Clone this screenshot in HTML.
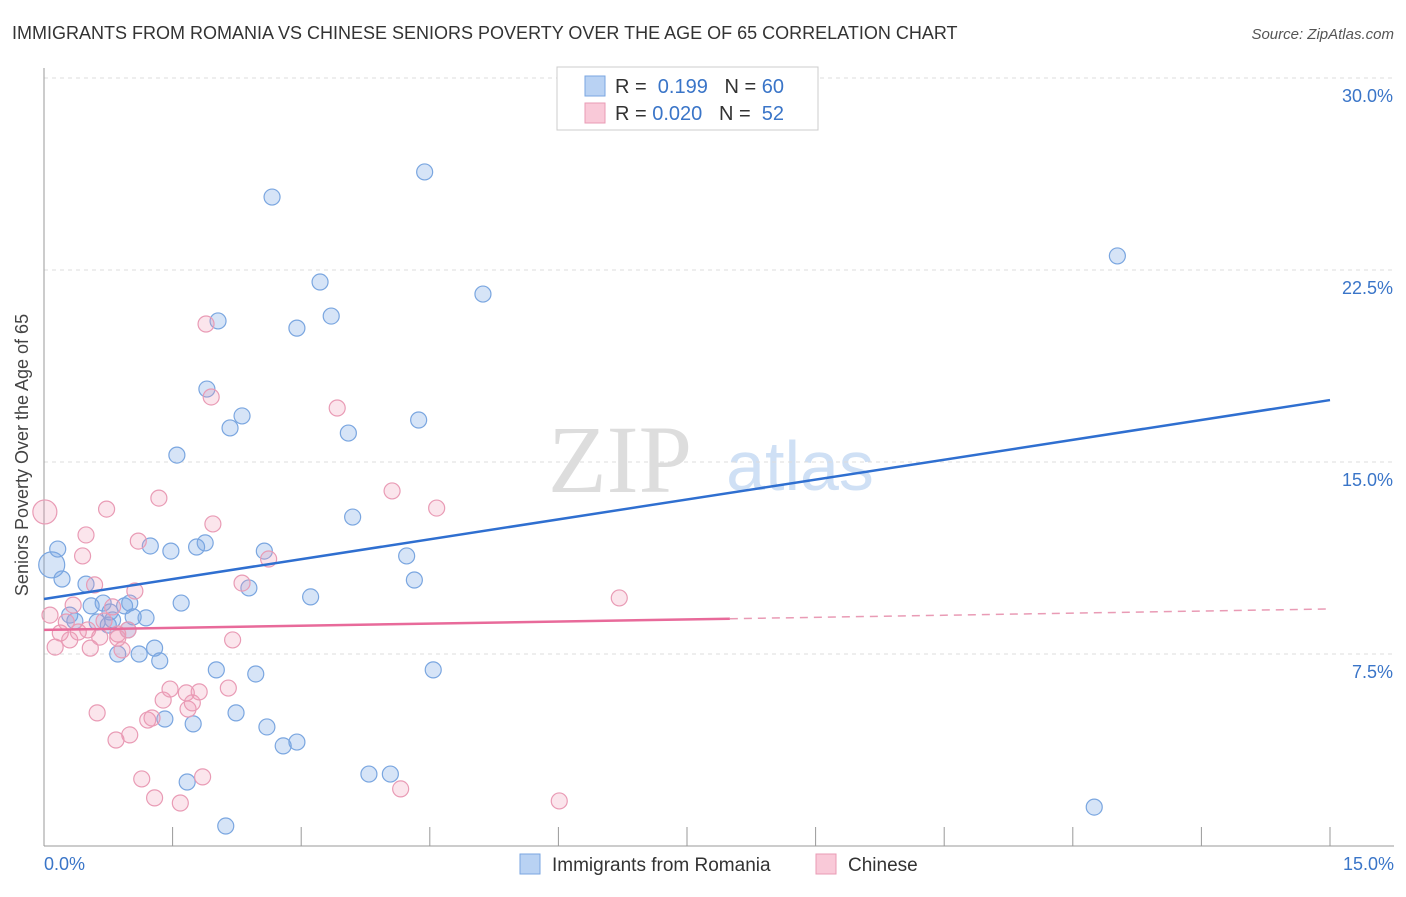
<!DOCTYPE html>
<html><head><meta charset="utf-8"><style>
body{margin:0;background:#fff;font-family:"Liberation Sans",sans-serif}
</style></head><body>
<svg id="c" width="1406" height="892" xmlns="http://www.w3.org/2000/svg" font-family="Liberation Sans, sans-serif">
<text x="12" y="39" font-size="18" fill="#333">IMMIGRANTS FROM ROMANIA VS CHINESE SENIORS POVERTY OVER THE AGE OF 65 CORRELATION CHART</text>
<text x="1394" y="39" font-size="15" fill="#555" font-style="italic" text-anchor="end">Source: ZipAtlas.com</text>
<text x="620" y="492" font-size="96" fill="#ddd" font-family="Liberation Serif, serif" text-anchor="middle">ZIP</text>
<text x="800" y="490" font-size="70" fill="#cfe0f5" text-anchor="middle">atlas</text>
<g id="grid"></g><g id="axes"></g><g id="pts"></g><g id="lines"></g>
<text x="28" y="455" font-size="18" fill="#444" text-anchor="middle" transform="rotate(-90 28 455)">Seniors Poverty Over the Age of 65</text>
<g>
<rect x="557" y="67" width="261" height="63" fill="#fff" stroke="#ccc"/>
<rect x="585" y="76" width="20" height="20" fill="#b9d2f3" stroke="#7aa6e0"/>
<rect x="585" y="103" width="20" height="20" fill="#f9c9d8" stroke="#e99bb5"/>
<text x="615" y="93" font-size="20" fill="#333">R = <tspan fill="#3a75c8">&#160;0.199</tspan>&#160;&#160;&#160;N = <tspan fill="#3a75c8">60</tspan></text>
<text x="615" y="120" font-size="20" fill="#333">R = <tspan fill="#3a75c8">0.020</tspan>&#160;&#160;&#160;N = <tspan fill="#3a75c8">&#160;52</tspan></text>
</g>
<g>
<rect x="520" y="854" width="20" height="20" fill="#b9d2f3" stroke="#7aa6e0"/>
<text x="552" y="871" font-size="19" fill="#333">Immigrants from Romania</text>
<rect x="816" y="854" width="20" height="20" fill="#f9c9d8" stroke="#e99bb5"/>
<text x="848" y="871" font-size="19" fill="#333">Chinese</text>
</g>
</svg>
<script>
const yTicks=[7.5,15,22.5,30];
const yTickLabels=["7.5%","15.0%","22.5%","30.0%"];
const xTicks=[0,1.5,3,4.5,6,7.5,9,10.5,12,13.5,15];
const blueX=[0.09,0.16,0.21,0.49,0.30,0.55,0.62,0.77,0.69,0.94,1.00,0.98,1.04,1.19,0.75,0.86,1.11,1.29,1.35,1.24,1.48,1.55,1.60,1.78,1.88,1.90,2.03,2.17,2.31,2.39,2.57,2.01,2.47,1.41,1.74,2.24,2.60,2.79,2.95,1.67,2.12,2.66,2.95,3.22,3.35,3.55,3.60,3.11,4.23,4.32,4.37,4.44,4.54,3.79,4.04,5.12,12.52,12.25,0.36,0.80];
const blueY=[10.98,11.60,10.43,10.23,9.02,9.38,8.75,9.14,9.49,9.38,9.49,8.44,8.95,8.91,8.63,7.50,7.50,7.73,7.23,11.72,11.52,15.27,9.49,11.68,11.84,17.85,20.51,16.33,16.80,10.08,11.52,6.88,6.72,4.96,4.77,5.20,4.65,3.91,4.06,2.50,0.78,25.35,20.23,22.03,20.70,16.13,12.85,9.73,11.33,10.39,16.64,26.33,6.88,2.81,2.81,21.56,23.05,1.52,8.79,8.83];
const pinkX=[0.01,0.07,0.13,0.19,0.30,0.34,0.40,0.45,0.49,0.54,0.59,0.62,0.65,0.73,0.80,0.84,0.86,0.91,1.00,1.06,1.10,1.14,1.21,1.26,1.29,1.34,1.39,1.47,1.59,1.66,1.68,1.73,1.81,1.85,1.89,1.95,1.97,2.15,2.20,2.31,2.62,3.42,4.06,4.16,4.58,6.01,6.71,0.98,0.26,0.70,0.51,0.86];
const pinkY=[13.05,9.02,7.77,8.32,8.05,9.41,8.36,11.33,12.15,7.73,10.20,5.20,8.16,13.16,9.34,4.14,8.28,7.66,4.34,9.96,11.91,2.62,4.92,5.00,1.88,13.59,5.70,6.13,1.68,5.98,5.35,5.59,6.02,2.70,20.39,17.54,12.58,6.17,8.05,10.27,11.21,17.11,13.87,2.23,13.20,1.76,9.69,8.44,8.75,8.79,8.44,8.12];
const blueTrend=[9.65,17.42];
const pinkTrend=[8.44,9.26];
const NS="http://www.w3.org/2000/svg";
const X=v=>44+v/15*1286, Y=v=>846-v/7.5*192;
function mk(tag,attrs,parent){const e=document.createElementNS(NS,tag);for(const k in attrs)e.setAttribute(k,attrs[k]);document.getElementById(parent).appendChild(e);return e;}
yTicks.forEach((t,i)=>{
 const g=mk('line',{x1:44,x2:1394,y1:Y(t),y2:Y(t),stroke:'#ddd','stroke-dasharray':'4,4'},'grid');
 
 
 const l=mk('text',{x:1393,y:Y(t)+24,'font-size':18,fill:'#3a75c8','text-anchor':'end'},'axes');
 l.textContent=yTickLabels[i];
 
 
});
const ax=mk('line',{x1:44,x2:1394,y1:846,y2:846,stroke:'#999'},'axes');


const ay=mk('line',{x1:44,x2:44,y1:68,y2:846,stroke:'#999'},'axes');


xTicks.forEach(t=>{
 const k=mk('line',{x1:X(t),x2:X(t),y1:827,y2:846,stroke:'#999'},'axes');
 
 
});
const x0=mk('text',{x:44,y:870,'font-size':18,fill:'#3a75c8'},'axes');x0.textContent='0.0%';


const x1=mk('text',{x:1394,y:870,'font-size':18,fill:'#3a75c8','text-anchor':'end'},'axes');x1.textContent='15.0%';


blueX.forEach((v,i)=>{
 const c=mk('circle',{cx:X(v),cy:Y(blueY[i]),r:i<1?13:8,fill:'rgba(120,165,230,0.3)',stroke:'#7aa6e0','stroke-width':1.2},'pts');
 
 
});
pinkX.forEach((v,i)=>{
 const c=mk('circle',{cx:X(v),cy:Y(pinkY[i]),r:i<1?12:8,fill:'rgba(240,150,180,0.25)',stroke:'#e99bb5','stroke-width':1.2},'pts');
 
 
});
const bl=mk('line',{x1:X(0),y1:Y(blueTrend[0]),x2:X(15),y2:Y(blueTrend[1]),stroke:'#2f6fd0','stroke-width':2.5},'lines');


const pm=pinkTrend[0]+(pinkTrend[1]-pinkTrend[0])*(8/15);
const pl=mk('line',{x1:X(0),y1:Y(pinkTrend[0]),x2:X(8),y2:Y(pm),stroke:'#e86a9a','stroke-width':2.5},'lines');


const pd=mk('line',{x1:X(8),y1:Y(pm),x2:X(15),y2:Y(pinkTrend[1]),stroke:'#e99bb5','stroke-width':1.5,'stroke-dasharray':'8,6'},'lines');


</script>
</body></html>
